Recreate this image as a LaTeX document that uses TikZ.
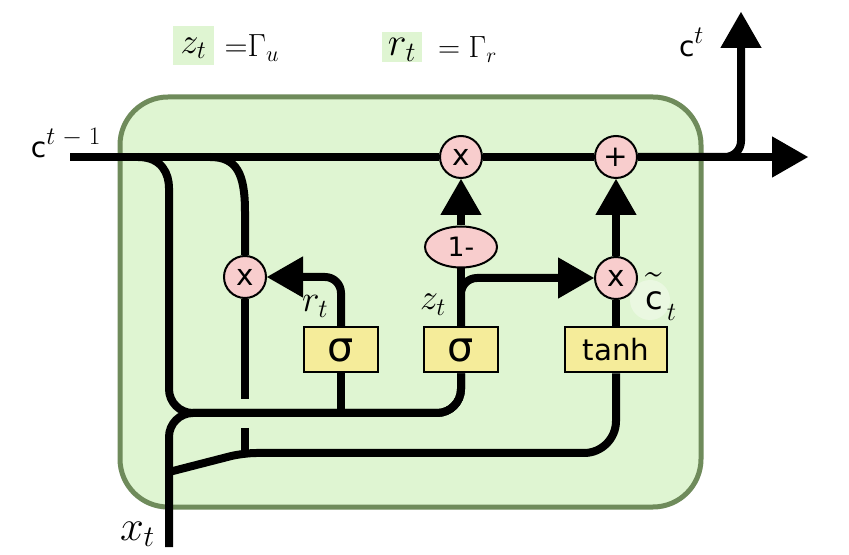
\RequirePackage{fix-cm}
\documentclass[tikz,border=0pt]{standalone}
\usepackage{fontspec}
\newfontfamily\dv{DejaVu Sans}
\usepackage{tikz}
\usetikzlibrary{shapes, calc, arrows.meta, positioning}

\definecolor{cellfill}{HTML}{DFF5D2}
\definecolor{cellline}{HTML}{6F8B5B}
\definecolor{oppink}{HTML}{F8CDCD}
\definecolor{gateyellow}{HTML}{F5EC9A}

\begin{document}
\begin{tikzpicture}[>={Triangle[length=27pt,width=31pt,line width=0pt]},x=0.75pt,y=-0.75pt,line width=6pt,node distance=5pt]
	\tikzset{op/.style={circle,draw,line width=1.5pt,fill=oppink,minimum size=31.5pt,inner sep=0pt,font=\dv\fontsize{22}{22}\selectfont}}
	\tikzset{gate/.style={rectangle,draw,line width=1.5pt,fill=gateyellow,minimum width=55.5pt,minimum height=33.75pt,inner sep=0pt}}
	\tikzset{hl/.style={fill=cellfill,inner sep=0pt,text depth=0pt}}
	\tikzset{lbl/.style={inner sep=0pt,anchor=base west}}
	\useasboundingbox (0,0) rectangle (849,555);
	\draw[line width=3.75pt,draw=cellline,fill=cellfill,rounded corners=36pt] (120,97) rectangle (701,507);
	\node[op] (mulz) at (461,157) {x};
	\node[op] (addc) at (616,157) {+};
	\node[ellipse,draw,line width=1.5pt,fill=oppink,minimum width=54pt,minimum height=30.75pt,inner sep=0pt,font=\dv\fontsize{20}{20}\selectfont] (onem) at (461,247) {1-};
	\node[op] (mulr) at (245,277) {x};
	\node[op] (mulh) at (616,278) {x};
	\node[gate,font=\dv\fontsize{31}{31}\selectfont] (sigr) at (341,350) {σ};
	\node[gate,font=\dv\fontsize{31}{31}\selectfont] (sigz) at (461,350) {σ};
	\node[gate,minimum width=76.5pt,font=\dv\fontsize{22}{22}\selectfont] (tanh) at (616,350) {tanh};
	\coordinate (cin) at (70,157);
	\coordinate (cout) at (808,157);
	\coordinate (ctop) at (741,12);
	\coordinate (xin) at (169,547);
	\coordinate (bus) at (169,413);
	\coordinate (tapc) at (138,157);
	\coordinate (bendc) at (169,212);
	\coordinate (tapr) at (210,157);
	\coordinate (bendr) at (245,212);
	\coordinate (xtap) at (169,472);
	\coordinate (kink) at (243,453);
	\coordinate (gapt) at (245,399);
	\coordinate (gapb) at (245,428);
	% cell state
	\draw (cin) -- (mulz);
	\draw (mulz) -- (addc);
	\draw[->] (addc) -- (cout);
	\draw[->,rounded corners=12pt] (addc) -- (addc -| ctop) -- (ctop);
	% gates
	\draw (sigz) -- (onem);
	\draw[->] (onem) -- (mulz);
	\draw[->,rounded corners=12pt] (sigz.north) |- (mulh);
	\draw (tanh) -- (mulh);
	\draw[->] (mulh) -- (addc);
	\draw[->,rounded corners=12pt] (sigr.north) |- (mulr);
	% inputs
	\draw[rounded corners=18pt] (tapc) .. controls +(24,0) and +(0,-38) .. (bendc) -- (bus) -| (sigz.south);
	\draw[rounded corners=18pt] (xin) -- (bus) -| (sigz.south);
	\draw (sigr) -- (sigr |- bus);
	\draw[rounded corners=10pt] (xtap) -- (kink) [rounded corners=24pt] -| (tanh.south);
	\draw (tapr) .. controls +(27,0) and +(0,-38) .. (bendr) -- (mulr);
	\draw (mulr) -- (gapt);
	\draw (gapb) -- (gapb |- kink);
	% labels
	\node[lbl,font=\fontsize{27}{27}\selectfont] (lcin) at (27,158) {{\dv\fontsize{21}{21}\selectfont c}$^{t\mkern5mu-\mkern5mu1}$};
	\node[lbl,font=\fontsize{27}{27}\selectfont] (lcout) at (675,57) {{\dv\fontsize{21}{21}\selectfont c}$^{t}$};
	\node[lbl,font=\fontsize{32}{32}\selectfont] (lxin) at (116,540) {$x_t$};
	\node[lbl,font=\fontsize{28}{28}\selectfont] (lr) at (298,312) {$r_t$};
	\node[lbl,font=\fontsize{27}{27}\selectfont] (lz) at (416,310) {$z_t$};
	\fill[white,opacity=0.35] (650,300) circle (15pt);
	\node[lbl] (lct) at (641,310) {{\fontsize{40}{40}\selectfont$\tilde{\mbox{\dv\fontsize{24}{24}\selectfont c\rule{0pt}{19.1pt}}}$}{\fontsize{28}{28}\selectfont$\mkern2mu_{\lower4pt\hbox{$\scriptstyle t$}}$}};
	\node[hl,minimum width=30.75pt,minimum height=29.25pt,font=\fontsize{27}{27}\selectfont] (lzt) at (193.5,45.5) {$z_t$};
	\node[right=2pt of lzt,inner sep=0pt,text depth=0pt,font=\fontsize{24}{24}\selectfont] (lgu) {${=}\Gamma_u$};
	\node[hl,minimum width=30pt,minimum height=22.5pt,font=\fontsize{30}{30}\selectfont] (lrt) at (402,47) {$r_t$};
	\node[right=6pt of lrt,inner sep=0pt,text depth=0pt,font=\fontsize{23}{23}\selectfont] (lgr) {$=\Gamma_r$};
\end{tikzpicture}
\end{document}
